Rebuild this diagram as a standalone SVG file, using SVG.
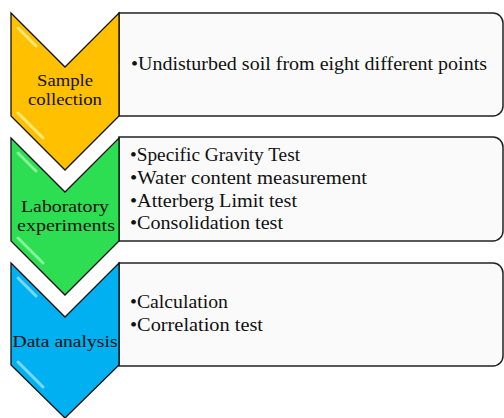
<svg xmlns="http://www.w3.org/2000/svg" width="504" height="418" viewBox="0 0 504 418">
<style>
.box{fill:#fafafa;stroke:#222;stroke-width:1.5}
.chev{stroke:#111;stroke-width:1.3;stroke-linejoin:miter}
.hl{fill:none;stroke-width:3;stroke-linecap:round;opacity:0.75}
.t{font-family:"Liberation Serif","Times New Roman",serif;font-size:18px;fill:#111}
.c{text-anchor:middle;font-size:17px}
</style>
<rect width="504" height="418" fill="#ffffff"/>
<g id="box1">
<path class="box" d="M119,13 H493 A10,10 0 0 1 503,23 V106 A10,10 0 0 1 493,116 H119 Z"/>
<text class="t" x="131" y="70" textLength="356" lengthAdjust="spacingAndGlyphs">•Undisturbed soil from eight different points</text>
</g>
<g id="box2">
<path class="box" d="M119,137 H493 A10,10 0 0 1 503,147 V231 A10,10 0 0 1 493,241 H119 Z"/>
<text class="t" x="130" y="161" textLength="170" lengthAdjust="spacingAndGlyphs">•Specific Gravity Test</text>
<text class="t" x="130" y="184" textLength="237" lengthAdjust="spacingAndGlyphs">•Water content measurement</text>
<text class="t" x="130" y="207" textLength="167" lengthAdjust="spacingAndGlyphs">•Atterberg Limit test</text>
<text class="t" x="130" y="229" textLength="153" lengthAdjust="spacingAndGlyphs">•Consolidation test</text>
</g>
<g id="box3">
<path class="box" d="M119,263 H493 A10,10 0 0 1 503,273 V356 A10,10 0 0 1 493,366 H119 Z"/>
<text class="t" x="130" y="308" textLength="98" lengthAdjust="spacingAndGlyphs">•Calculation</text>
<text class="t" x="130" y="331" textLength="133" lengthAdjust="spacingAndGlyphs">•Correlation test</text>
</g>
<g id="chevron1">
<path class="chev" fill="#ffc000" d="M11,13 L65,67 L119,13 L119,116 L65,170 L11,116 Z"/>
<path class="hl" stroke="#fff59d" d="M18,28 L36,46 M18,113 L43,138"/>
<text class="t c" x="65" y="86" textLength="56" lengthAdjust="spacingAndGlyphs">Sample</text>
<text class="t c" x="65" y="105" textLength="74" lengthAdjust="spacingAndGlyphs">collection</text>
</g>
<g id="chevron2">
<path class="chev" fill="#2ede52" d="M11,138 L65,192 L119,138 L119,241 L65,295 L11,241 Z"/>
<path class="hl" stroke="#a6f7b4" d="M18,153 L36,171 M18,238 L43,263"/>
<text class="t c" x="65" y="212" textLength="88" lengthAdjust="spacingAndGlyphs">Laboratory</text>
<text class="t c" x="66" y="231" textLength="98" lengthAdjust="spacingAndGlyphs">experiments</text>
</g>
<g id="chevron3">
<path class="chev" fill="#00b0f0" d="M11,263 L65,317 L119,263 L119,365 L65,418 L11,365 Z"/>
<path class="hl" stroke="#9fe8ff" d="M18,278 L36,296 M18,362 L43,387"/>
<text class="t c" x="65" y="347" textLength="105" lengthAdjust="spacingAndGlyphs">Data analysis</text>
</g>
</svg>
